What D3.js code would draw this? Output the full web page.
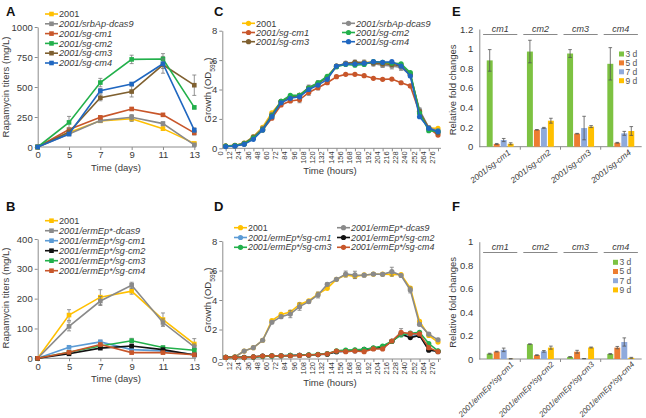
<!DOCTYPE html>
<html><head><meta charset="utf-8">
<script src="https://cdn.jsdelivr.net/npm/d3@7"></script>
<style>body{margin:0;background:#fff}svg{display:block;font-family:"Liberation Sans",Arial,sans-serif}</style>
</head><body><svg id="c" width="646" height="418"></svg>
<script>
// ---------- DATA ----------
const days = ["0","5","7","9","11","13"];
const hours = ["0","12","24","36","48","60","72","84","96","108","120","132","144","156","168","180","192","204","216","228","240","252","264","276"];

// Panel A (mg/L)
const aNames = ["2001","2001/srbAp-dcas9","2001/sg-cm1","2001/sg-cm2","2001/sg-cm3","2001/sg-cm4"];
const a2001  = [0,120,218,235,153,30];
const aDcas9 = [0,108,220,248,195,18];
const aCm1   = [0,145,247,317,268,118];
const aCm2   = [0,205,537,730,733,330];
const aCm3   = [0,125,410,462,685,515];
const aCm4   = [0,108,468,525,694,140];
const aErr2001  = [0,10,10,22,15,8];
const aErrDcas9 = [0,10,10,22,15,8];
const aErrCm1   = [0,10,12,12,10,18];
const aErrCm2   = [0,50,35,35,45,12];
const aErrCm3   = [0,10,25,45,70,85];
const aErrCm4   = [0,12,20,12,40,20];

// Panel B (mg/L)
const bNames = ["2001","2001/ermEp*-dcas9","2001/ermEp*/sg-cm1","2001/ermEp*/sg-cm2","2001/ermEp*/sg-cm3","2001/ermEp*/sg-cm4"];
const b2001  = [0,145,205,225,130,48];
const bDcas9 = [0,107,192,245,120,38];
const bCm1   = [0,37,55,29,25,13];
const bCm2   = [0,15,34,41,29,11];
const bCm3   = [0,20,41,59,36,27];
const bCm4   = [0,20,46,19,19,12];
const bErr2001  = [0,18,25,10,22,18];
const bErrDcas9 = [0,15,15,10,12,10];
const bErrCm1   = [0,5,6,4,4,3];
const bErrCm2   = [0,3,4,5,4,3];
const bErrCm3   = [0,4,5,8,5,4];
const bErrCm4   = [0,4,6,4,4,3];

// Panel C (OD595)
const cNames = ["2001","2001/srbAp-dcas9","2001/sg-cm1","2001/sg-cm2","2001/sg-cm3","2001/sg-cm4"];
const c2001  = [0.15,0.2,0.35,0.8,1.43,2.42,3.15,3.45,3.6,4.1,4.4,4.85,5.6,5.75,5.8,5.85,5.85,5.8,5.75,5.7,5.0,2.5,1.4,1.35];
const cDcas9 = [0.15,0.2,0.35,0.78,1.35,2.3,3.2,3.5,3.6,4.15,4.45,4.8,5.55,5.8,5.85,5.85,5.75,5.65,5.6,5.5,5.0,2.6,1.4,1.2];
const cCm1   = [0.15,0.18,0.3,0.7,1.25,2.05,2.95,3.22,3.3,3.8,4.12,4.46,4.87,5.03,5.03,4.94,4.76,4.69,4.71,4.46,4.24,2.42,1.36,0.9];
const cCm2   = [0.15,0.18,0.3,0.7,1.25,2.2,3.2,3.6,3.6,4.1,4.45,4.9,5.55,5.7,5.65,5.7,5.9,5.85,5.8,5.75,5.15,2.4,1.2,1.15];
const cCm3   = [0.15,0.18,0.32,0.75,1.3,2.25,3.2,3.5,3.6,4.1,4.4,4.85,5.6,5.75,5.85,5.8,5.8,5.75,5.7,5.6,5.0,2.5,1.35,1.05];
const cCm4   = [0.12,0.15,0.27,0.61,1.24,2.15,3.1,3.4,3.5,4.0,4.3,4.69,5.6,5.73,5.73,5.78,5.89,5.85,5.89,5.6,4.92,2.15,1.36,1.13];
const cErrDcas9 = [0,0,0,0.05,0.1,0.1,0.1,0.1,0.1,0.15,0.15,0.1,0.1,0.1,0.15,0.15,0.15,0.15,0.2,0.2,0.15,0.15,0.1,0.1];
const cErrCm1   = [0,0,0,0,0,0,0,0.1,0.2,0.2,0.15,0.1,0.1,0,0,0,0,0,0,0.1,0.1,0.1,0.1,0.1];

// Panel D (OD595)
const dNames = ["2001","2001/ermEp*-dcas9","2001/ermEp*/sg-cm1","2001/ermEp*/sg-cm2","2001/ermEp*/sg-cm3","2001/ermEp*/sg-cm4"];
const d2001  = [0.11,0.14,0.54,0.77,1.27,2.6,3.02,3.18,3.7,3.95,4.4,4.79,5.4,5.7,5.6,5.7,5.75,5.75,5.74,5.72,4.8,2.55,1.6,1.15];
const dDcas9 = [0.11,0.14,0.54,0.77,1.27,2.49,2.87,3.05,3.55,3.89,4.34,5.06,5.4,5.76,5.7,5.68,5.76,5.74,5.92,5.66,4.68,2.35,1.69,1.3];
const dCm1   = [0.11,0.12,0.1,0.12,0.18,0.2,0.22,0.23,0.25,0.27,0.3,0.35,0.5,0.52,0.55,0.62,0.72,0.78,1.2,1.7,1.65,1.6,0.65,0.5];
const dCm2   = [0.11,0.12,0.12,0.14,0.2,0.22,0.22,0.24,0.25,0.27,0.3,0.33,0.5,0.55,0.58,0.65,0.72,0.8,1.2,1.68,1.45,1.6,0.6,0.52];
const dCm3   = [0.11,0.12,0.1,0.13,0.18,0.21,0.22,0.24,0.25,0.28,0.32,0.36,0.55,0.6,0.62,0.65,0.76,0.88,1.2,1.63,1.75,1.81,1.05,0.55];
const dCm4   = [0.11,0.11,0.1,0.14,0.2,0.22,0.22,0.22,0.24,0.27,0.3,0.35,0.54,0.5,0.54,0.5,0.68,0.68,1.22,1.81,1.72,1.7,0.77,0.5];
const dErrDcas9 = [0,0,0,0,0,0,0.1,0.25,0.25,0.1,0.2,0.1,0,0.2,0.25,0.1,0.1,0.1,0.3,0.1,0.2,0.1,0.1,0.1];
const dErrCm4   = [0,0,0,0,0,0,0,0,0,0,0,0,0,0,0,0,0,0,0.1,0.25,0.15,0.1,0.1,0];

// Panels E & F (relative fold changes)
const genes = ["cm1","cm2","cm3","cm4"];
const timepoints = ["3 d","5 d","7 d","9 d"];
const eLabels = ["2001/sg-cm1","2001/sg-cm2","2001/sg-cm3","2001/sg-cm4"];
const e3d = [0.88,0.97,0.95,0.845];
const e5d = [0.028,0.172,0.133,0.04];
const e7d = [0.068,0.192,0.19,0.136];
const e9d = [0.03,0.265,0.205,0.16];
const eErr3d = [0.11,0.115,0.04,0.165];
const eErr5d = [0.005,0.003,0.003,0.004];
const eErr7d = [0.016,0.005,0.12,0.02];
const eErr9d = [0.01,0.025,0.01,0.045];
const fLabels = ["2001/ermEp*/sg-cm1","2001/ermEp*/sg-cm2","2001/ermEp*/sg-cm3","2001/ermEp*/sg-cm4"];
const f3d = [0.045,0.127,0.018,0.043];
const f5d = [0.063,0.033,0.062,0.097];
const f7d = [0.078,0.065,0.003,0.145];
const f9d = [0.002,0.097,0.098,0.01];
const fErr3d = [0.004,0.002,0.002,0.003];
const fErr5d = [0.003,0.003,0.012,0.01];
const fErr7d = [0.015,0.007,0.001,0.035];
const fErr9d = [0.001,0.013,0.004,0.004];

// ---------- STYLE ----------
const YEL="#ffc000", GRY="#8a8a8a", ORG="#c8562a", GRN="#22b04b", BRN="#7f6030", BLU="#2067c0", LBLU="#5b9bd5", BLK="#111111";
const barCols = ["#7dc242","#ed7d31","#8faadc","#ffc000"];
const AX="#8c8c8c", TX="#3a3a3a";

const svg = d3.select("#c");

function styleAxis(g, fs){
  g.select(".domain").attr("stroke",AX);
  g.selectAll(".tick line").attr("stroke",AX);
  g.selectAll(".tick text").attr("fill",TX).attr("font-size",fs);
}

function letter(t,x,y){ svg.append("text").attr("x",x).attr("y",y).attr("font-weight","bold").attr("font-size",13).attr("fill","#111").text(t); }

function ylab(x,y,parts,fs){
  const t = svg.append("text").attr("transform",`translate(${x},${y}) rotate(-90)`).attr("text-anchor","middle").attr("font-size",fs).attr("fill",TX);
  parts.forEach(p=>{ const s=t.append("tspan").text(p.t); if(p.sub){s.attr("font-size",fs*0.7).attr("baseline-shift","sub");} });
}

function legendText(g, name, x, y, fs){
  const t = g.append("text").attr("x",x).attr("y",y).attr("dy","0.35em").attr("font-size",fs).attr("fill",TX).text(name);
  if(name!=="2001") t.attr("font-style","italic");
}

// Line panel
function linePanel(o){
  const x = d3.scalePoint().domain(o.cats).range(o.xr);
  const y = d3.scaleLinear().domain(o.yd).range(o.yr);
  const gx = svg.append("g").attr("transform",`translate(0,${o.yr[0]})`).call(d3.axisBottom(x).tickSize(3).tickPadding(o.rot?3:1.5).tickSizeOuter(0));
  gx.select(".domain").attr("d",`M${o.axX0},0H${o.axX1}`);
  styleAxis(gx,o.xfs);
  if(o.rot){ gx.selectAll(".tick text").attr("transform","rotate(-90)").attr("text-anchor","end").attr("dx","-0.4em").attr("dy","-0.45em").attr("x",0).attr("y",0); }
  const gy = svg.append("g").attr("transform",`translate(${o.axX0},0)`).call(d3.axisLeft(y).tickValues(o.yticks).tickSize(3).tickPadding(2).tickSizeOuter(0).tickFormat(o.yfmt||d3.format("d")));
  styleAxis(gy,o.yfs);
  // series
  o.series.forEach(s=>{
    const g = svg.append("g");
    if(s.err){
      s.v.forEach((v,i)=>{ const e=s.err[i]; if(!e) return; const cx=x(o.cats[i]);
        g.append("path").attr("d",`M${cx},${y(v-e)}V${y(v+e)}M${cx-2},${y(v-e)}h4M${cx-2},${y(v+e)}h4`).attr("stroke","#7a7a7a").attr("stroke-width",0.8).attr("fill","none"); });
    }
    g.append("path").datum(s.v).attr("fill","none").attr("stroke",s.c).attr("stroke-width",1.6)
      .attr("d",d3.line().x((d,i)=>x(o.cats[i])).y(d=>y(d)));
    g.selectAll("m").data(s.v).join(o.marker==="sq"?"rect":"circle").each(function(d,i){
      const el=d3.select(this);
      if(o.marker==="sq") el.attr("x",x(o.cats[i])-2.3).attr("y",y(d)-2.3).attr("width",4.6).attr("height",4.6);
      else el.attr("cx",x(o.cats[i])).attr("cy",y(d)).attr("r",2.6);
    }).attr("fill",s.c);
  });
  // axis titles
  svg.append("text").attr("x",o.xtitle[1]).attr("y",o.xtitle[2]).attr("text-anchor","middle").attr("font-size",9.5).attr("fill",TX).text(o.xtitle[0]);
  // legend
  const lg = svg.append("g");
  o.legend.forEach((L,i)=>{
    const s=o.series.find(q=>q.n===L.n);
    lg.append("line").attr("x1",L.x).attr("x2",L.x+13).attr("y1",L.y).attr("y2",L.y).attr("stroke",s.c).attr("stroke-width",1.6);
    if(o.marker==="sq") lg.append("rect").attr("x",L.x+6.5-2.3).attr("y",L.y-2.3).attr("width",4.6).attr("height",4.6).attr("fill",s.c);
    else lg.append("circle").attr("cx",L.x+6.5).attr("cy",L.y).attr("r",2.6).attr("fill",s.c);
    legendText(lg,L.n,L.x+14,L.y,o.lfs||9.2);
  });
}

// ---- Panel A ----
letter("A",6,16);
ylab(9,87,[{t:"Rapamycin titers (mg/L)"}],9.5);
linePanel({cats:days,xr:[37.7,194.3],axX0:37.7,axX1:196,yd:[0,1000],yr:[147,27],yticks:[0,250,500,750,1000],xfs:9.5,yfs:9.5,marker:"sq",
  xtitle:["Time (days)",116,170.5],
  series:[{n:aNames[0],v:a2001,c:YEL,err:aErr2001},{n:aNames[1],v:aDcas9,c:GRY,err:aErrDcas9},{n:aNames[2],v:aCm1,c:ORG,err:aErrCm1},
          {n:aNames[4],v:aCm3,c:BRN,err:aErrCm3},{n:aNames[3],v:aCm2,c:GRN,err:aErrCm2},{n:aNames[5],v:aCm4,c:BLU,err:aErrCm4}],
  legend:aNames.map((n,i)=>({n:n,x:45,y:14+9.8*i}))});

// ---- Panel B ----
letter("B",6,211);
ylab(9,298,[{t:"Rapamycin titers (mg/L)"}],9.5);
linePanel({cats:days,xr:[37.7,194.3],axX0:37.7,axX1:196,yd:[0,400],yr:[358.3,239],yticks:[0,100,200,300,400],xfs:9.5,yfs:9.5,marker:"sq",
  xtitle:["Time (days)",116,382],
  series:[{n:bNames[0],v:b2001,c:YEL,err:bErr2001},{n:bNames[1],v:bDcas9,c:GRY,err:bErrDcas9},{n:bNames[2],v:bCm1,c:LBLU,err:bErrCm1},
          {n:bNames[4],v:bCm3,c:GRN,err:bErrCm3},{n:bNames[3],v:bCm2,c:BLK,err:bErrCm2},{n:bNames[5],v:bCm4,c:ORG,err:bErrCm4}],
  legend:bNames.map((n,i)=>({n:n,x:45,y:220.7+10*i}))});

// ---- Panel C ----
letter("C",214,16);
ylab(211,90,[{t:"Growth (OD"},{t:"595",sub:true},{t:")"}],9.5);
linePanel({cats:hours,xr:[225.7,438],axX0:222.3,axX1:441,yd:[0,8],yr:[148.3,30.7],yticks:[0,2,4,6,8],xfs:7.5,yfs:9.5,rot:true,marker:"c",
  xtitle:["Time (hours)",330,174],
  series:[{n:cNames[2],v:cCm1,c:ORG,err:cErrCm1},{n:cNames[0],v:c2001,c:YEL},{n:cNames[1],v:cDcas9,c:GRY,err:cErrDcas9},
          {n:cNames[4],v:cCm3,c:BRN},{n:cNames[3],v:cCm2,c:GRN},{n:cNames[5],v:cCm4,c:BLU}],
  legend:[{n:cNames[0],x:242,y:23.3},{n:cNames[2],x:242,y:32.5},{n:cNames[4],x:242,y:41.7},
          {n:cNames[1],x:342,y:23.3},{n:cNames[3],x:342,y:32.5},{n:cNames[5],x:342,y:41.7}]});

// ---- Panel D ----
letter("D",214,211);
ylab(211,300,[{t:"Growth (OD"},{t:"595",sub:true},{t:")"}],9.5);
linePanel({cats:hours,xr:[225.7,438],axX0:222.3,axX1:441,yd:[0,8],yr:[359,241],yticks:[0,2,4,6,8],xfs:7.5,yfs:9.5,rot:true,marker:"c",lfs:8.9,
  xtitle:["Time (hours)",330,386],
  series:[{n:dNames[0],v:d2001,c:YEL},{n:dNames[1],v:dDcas9,c:GRY,err:dErrDcas9},{n:dNames[2],v:dCm1,c:LBLU},
          {n:dNames[3],v:dCm2,c:BLK},{n:dNames[4],v:dCm3,c:GRN},{n:dNames[5],v:dCm4,c:ORG,err:dErrCm4}],
  legend:[{n:dNames[0],x:234,y:227.7},{n:dNames[2],x:234,y:237.5},{n:dNames[4],x:234,y:247.3},
          {n:dNames[1],x:337,y:227.7},{n:dNames[3],x:337,y:237.5},{n:dNames[5],x:337,y:247.3}]});

// ---- Bar panels ----
function barPanel(o){
  const x0 = d3.scaleBand().domain(genes).range([479.3,641.7]).paddingInner(0.33).paddingOuter(0.185);
  const x1 = d3.scaleBand().domain(timepoints).range([0,x0.bandwidth()]).paddingInner(0.15);
  const y = d3.scaleLinear().domain(o.yd).range(o.yr);
  const step = x0.step();
  const gx = svg.append("g").attr("transform",`translate(0,${o.yr[0]})`);
  gx.append("line").attr("x1",479.3).attr("x2",641.7).attr("stroke",AX);
  genes.forEach((g,i)=>{ if(i>0){ const bx=x0(g)-x0.step()*0.33/2; gx.append("line").attr("x1",bx).attr("x2",bx).attr("y1",0).attr("y2",3).attr("stroke",AX);} });
  const gy = svg.append("g").attr("transform","translate(479.3,0)").call(d3.axisLeft(y).tickValues(o.yticks).tickSize(0).tickPadding(6).tickFormat(d=>d3.format("~g")(d)));
  styleAxis(gy,9.5);
  ylab(o.ylx,(o.yr[0]+o.yr[1])/2+2,[{t:"Relative fold changes"}],9.5);
  const vals=[o.v3,o.v5,o.v7,o.v9], errs=[o.e3,o.e5,o.e7,o.e9];
  genes.forEach((g,gi)=>{
    timepoints.forEach((t,ti)=>{
      const v=vals[ti][gi], e=errs[ti][gi], bx=x0(g)+x1(t), bw=x1.bandwidth();
      svg.append("rect").attr("x",bx).attr("y",y(v)).attr("width",bw).attr("height",y(0)-y(v)).attr("fill",barCols[ti]);
      const cx=bx+bw/2;
      svg.append("path").attr("d",`M${cx},${y(v-e)}V${y(v+e)}M${cx-1.8},${y(v-e)}h3.6M${cx-1.8},${y(v+e)}h3.6`).attr("stroke","#555").attr("stroke-width",0.8).attr("fill","none");
    });
    const cx=x0(g)+x0.bandwidth()/2;
    svg.append("text").attr("x",cx).attr("y",o.glY).attr("text-anchor","middle").attr("font-style","italic").attr("font-size",9).attr("fill",TX).text(g);
    svg.append("line").attr("x1",cx-step/2+3).attr("x2",cx+step/2-3).attr("y1",o.glY+3).attr("y2",o.glY+3).attr("stroke","#888").attr("stroke-width",1);
    svg.append("text").attr("transform",`translate(${cx+o.lblDx},${o.yr[0]+o.lblDy}) rotate(${o.rot})`).attr("text-anchor","end")
      .attr("font-style","italic").attr("font-size",o.lblFs).attr("fill",TX).text(o.labels[gi]);
  });
  timepoints.forEach((t,i)=>{
    svg.append("rect").attr("x",o.lgx).attr("y",o.lgy+o.lgs*i-2.5).attr("width",5).attr("height",5).attr("fill",barCols[i]);
    svg.append("text").attr("x",o.lgx+6.5).attr("y",o.lgy+o.lgs*i).attr("dy","0.35em").attr("font-size",8.5).attr("fill","#555").text(t);
  });
}
letter("E",452,16);
barPanel({yd:[0,1.2],yr:[146.7,29],yticks:[0,0.2,0.4,0.6,0.8,1,1.2],ylx:456,glY:31.5,labels:eLabels,rot:-38,lblDx:11,lblDy:7,lblFs:8.4,
  v3:e3d,v5:e5d,v7:e7d,v9:e9d,e3:eErr3d,e5:eErr5d,e7:eErr7d,e9:eErr9d,lgx:619,lgy:54,lgs:8.9});
letter("F",452,211);
barPanel({yd:[0,1],yr:[359,241.7],yticks:[0,0.2,0.4,0.6,0.8,1],ylx:456,glY:249.5,labels:fLabels,rot:-45,lblDx:14,lblDy:6,lblFs:7.9,
  v3:f3d,v5:f5d,v7:f7d,v9:f9d,e3:fErr3d,e5:fErr5d,e7:fErr7d,e9:fErr9d,lgx:613,lgy:262.3,lgs:9.2});
</script></body></html>
